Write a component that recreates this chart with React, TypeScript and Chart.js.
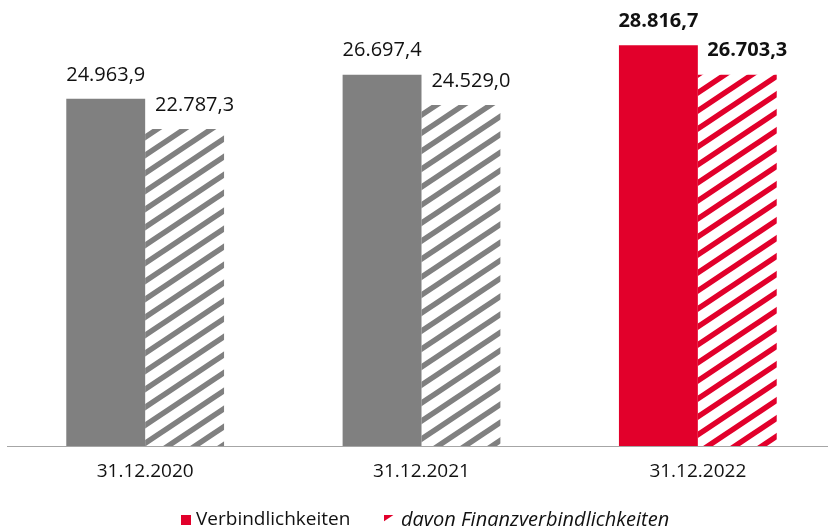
import React, { useEffect, useRef } from "react";
import { Chart, registerables } from "chart.js";

Chart.register(...registerables);

const categories = ["31.12.2020", "31.12.2021", "31.12.2022"];
const verbindlichkeiten = [24963.9, 26697.4, 28816.7];
const finanzverbindlichkeiten = [22787.3, 24529.0, 26703.3];
const seriesNames = ["Verbindlichkeiten", "davon Finanzverbindlichkeiten"];

const GRAY = "#808080";
const RED = "#E2002B";
const FONT = "'Open Sans', 'Noto Sans', sans-serif";

function fmt(v: number): string {
  const parts = v.toFixed(1).split(".");
  const int = parts[0].replace(/\B(?=(\d{3})+(?!\d))/g, ".");
  return int + "," + parts[1];
}

function makeHatch(ctx: CanvasRenderingContext2D, color: string): CanvasPattern | string {
  const c = document.createElement("canvas");
  const w = 27;
  const h = 18;
  c.width = w;
  c.height = h;
  const g = c.getContext("2d");
  if (!g) return color;
  g.fillStyle = "#ffffff";
  g.fillRect(0, 0, w, h);
  g.strokeStyle = color;
  g.lineWidth = 5.5;
  g.lineCap = "square";
  for (const x0 of [-w, 0, w]) {
    g.beginPath();
    g.moveTo(x0 - w, 2 * h);
    g.lineTo(x0 + 2 * w, -h);
    g.stroke();
  }
  return ctx.createPattern(c, "repeat") || color;
}

export default function App() {
  const ref = useRef<HTMLCanvasElement | null>(null);

  useEffect(() => {
    const canvas = ref.current;
    if (!canvas) return;
    const ctx = canvas.getContext("2d");
    if (!ctx) return;
    const grayHatch = makeHatch(ctx, GRAY);
    const redHatch = makeHatch(ctx, RED);
    const lastIdx = categories.length - 1;

    const labelPlugin = {
      id: "valueLabels",
      afterDatasetsDraw(chart: any) {
        const c = chart.ctx;
        c.save();
        c.textAlign = "center";
        c.textBaseline = "middle";
        c.fillStyle = "#111111";
        chart.data.datasets.forEach((ds: any, di: number) => {
          const meta = chart.getDatasetMeta(di);
          meta.data.forEach((bar: any, i: number) => {
            const bold = i === lastIdx;
            c.font = (bold ? "bold " : "") + "20px " + FONT;
            const dx = di === 1 ? 10 : 0;
            c.fillText(fmt(ds.data[i]), bar.x + dx, bar.y - 24);
          });
        });
        c.restore();
      },
    };

    const legendPlugin = {
      id: "customLegend",
      afterDraw(chart: any) {
        const c = chart.ctx;
        c.save();
        const y = 520;
        c.textBaseline = "middle";
        c.fillStyle = RED;
        c.fillRect(181, y - 5, 10, 10);
        c.fillStyle = "#111111";
        c.font = "19px " + FONT;
        c.textAlign = "left";
        c.fillText(seriesNames[0], 196, y);
        c.fillStyle = redHatch;
        c.fillRect(384, y - 5, 10, 10);
        c.fillStyle = "#111111";
        c.font = "italic 20px " + FONT;
        c.fillText(seriesNames[1], 401, y);
        c.restore();
      },
    };

    const chart = new Chart(canvas, {
      type: "bar",
      data: {
        labels: categories,
        datasets: [
          {
            label: seriesNames[0],
            data: verbindlichkeiten,
            backgroundColor: categories.map((_, i) => (i === lastIdx ? RED : GRAY)),
            borderWidth: 0,
            barPercentage: 1,
            categoryPercentage: 0.571,
          },
          {
            label: seriesNames[1],
            data: finanzverbindlichkeiten,
            backgroundColor: categories.map((_, i) => (i === lastIdx ? redHatch : grayHatch)) as any,
            borderWidth: 0,
            barPercentage: 1,
            categoryPercentage: 0.571,
          },
        ],
      },
      options: {
        animation: false,
        responsive: false,
        maintainAspectRatio: false,
        layout: { padding: { left: 7, right: 0, top: 1, bottom: 0 } },
        plugins: {
          legend: { display: false },
          tooltip: { enabled: false },
        },
        scales: {
          x: {
            grid: { display: false, drawTicks: false },
            border: { display: true, color: "#a6a6a6", width: 1 },
            ticks: {
              color: "#111111",
              font: { family: FONT, size: 19 },
              padding: 14,
            },
            afterFit: (s: any) => {
              s.height = 82;
            },
          },
          y: {
            display: false,
            min: 0,
            max: 32000,
          },
        },
      },
      plugins: [labelPlugin, legendPlugin],
    });

    return () => chart.destroy();
  }, []);

  return (
    <div style={{ position: "fixed", left: 0, top: 0, width: 828, height: 528, overflow: "hidden", background: "#ffffff" }}>
      <canvas ref={ref} width={836} height={528} style={{ width: 836, height: 528, display: "block" }} />
    </div>
  );
}
